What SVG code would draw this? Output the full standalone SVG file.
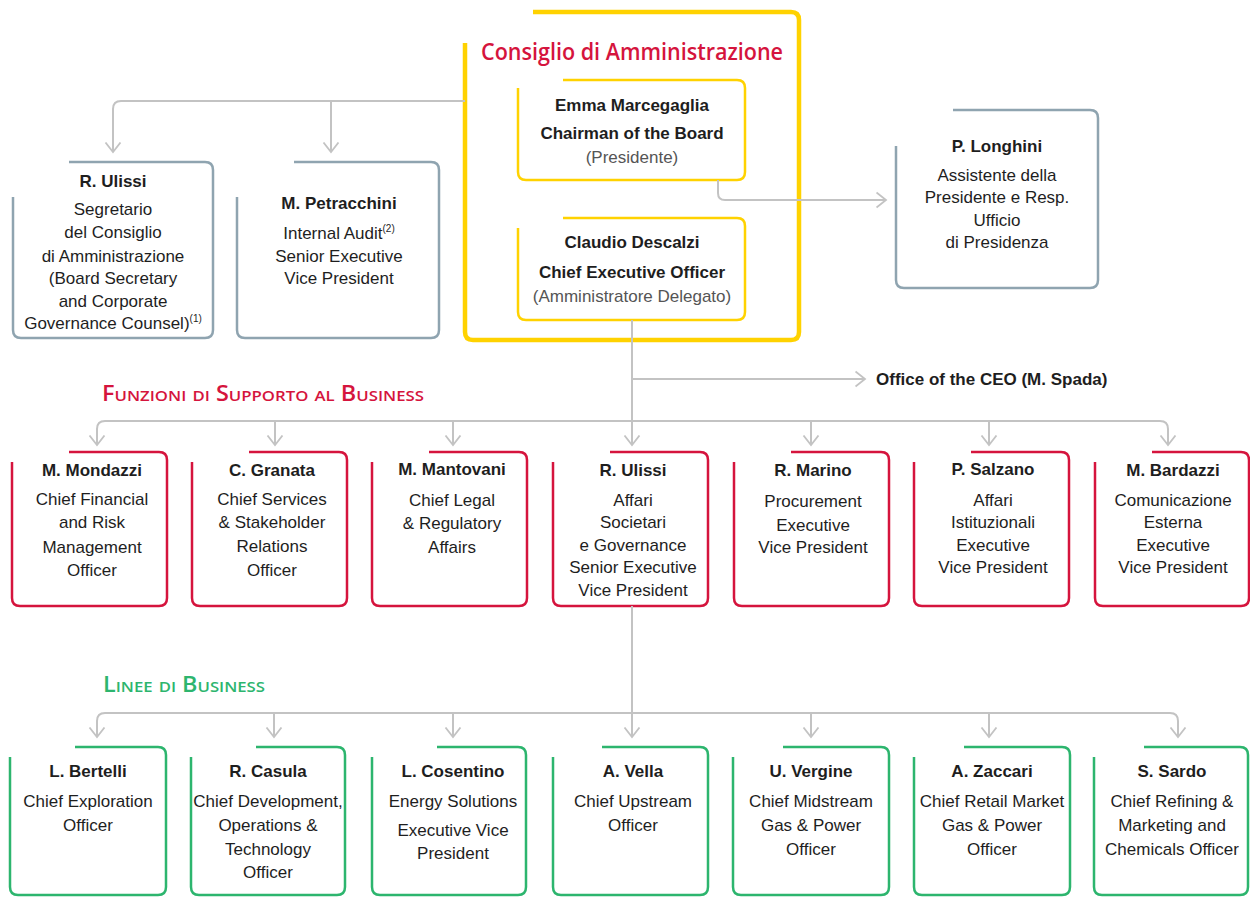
<svg xmlns="http://www.w3.org/2000/svg" width="1250" height="898" viewBox="0 0 1250 898">
<defs>
<style>
.n{font-family:"Liberation Sans",Arial,sans-serif;font-weight:bold;font-size:17px;fill:#1e1e1e;text-anchor:middle}
.t{font-family:"Liberation Sans",Arial,sans-serif;font-size:17px;fill:#1e1e1e;text-anchor:middle}
.g{fill:#555555}
.sup{font-size:10px}
.h{font-family:"Open Sans","Liberation Sans",sans-serif;font-weight:600;font-size:21px;font-variant:small-caps}
.red{fill:none;stroke:#d5143d;stroke-width:2.5}
.grn{fill:none;stroke:#2db56e;stroke-width:2.5}
.gry{fill:none;stroke:#8fa4b0;stroke-width:2.5}
.yel{fill:none;stroke:#ffd200;stroke-width:2.5}
.yelbig{fill:none;stroke:#ffd200;stroke-width:4.5}
.c{fill:none;stroke:#c3c3c3;stroke-width:2}
</style>
<marker id="arr" markerUnits="userSpaceOnUse" markerWidth="12" markerHeight="18" viewBox="0 0 12 18" refX="10.5" refY="9" orient="auto">
<path d="M1,1.5 L10.5,9 L1,16.5" fill="none" stroke="#c3c3c3" stroke-width="1.8"/>
</marker>
</defs>
<rect width="1250" height="898" fill="#ffffff"/>

<g id="consiglio">
<path class="yelbig" d="M533 12 H791 Q799 12 799 20 V332 Q799 340 791 340 H473 Q465 340 465 332 V43"/>
<text x="632" y="60" font-family="Open Sans, Liberation Sans, sans-serif" font-weight="600" font-size="23" fill="#d5143d" text-anchor="middle" textLength="302" lengthAdjust="spacingAndGlyphs">Consiglio di Amministrazione</text>
</g>

<g id="marcegaglia">
<path class="yel" d="M563 80 H737 Q745 80 745 88 V172 Q745 180 737 180 H526 Q518 180 518 172 V88"/>
<text class="n" x="632" y="111">Emma Marcegaglia</text>
<text class="n" x="632" y="139">Chairman of the Board</text>
<text class="t g" x="632" y="163">(Presidente)</text>
</g>

<g id="descalzi">
<path class="yel" d="M563 218 H737 Q745 218 745 226 V312 Q745 320 737 320 H526 Q518 320 518 312 V228"/>
<text class="n" x="632" y="248">Claudio Descalzi</text>
<text class="n" x="632" y="278">Chief Executive Officer</text>
<text class="t g" x="632" y="302">(Amministratore Delegato)</text>
</g>

<g id="ulissi-top">
<path class="gry" d="M69 162 H205 Q213 162 213 170 V330 Q213 338 205 338 H21 Q13 338 13 330 V197"/>
<text class="n" x="113" y="187">R. Ulissi</text>
<text class="t" x="113" y="215">Segretario</text>
<text class="t" x="113" y="238">del Consiglio</text>
<text class="t" x="113" y="262">di Amministrazione</text>
<text class="t" x="113" y="284">(Board Secretary</text>
<text class="t" x="113" y="307">and Corporate</text>
<text class="t" x="113" y="329">Governance Counsel)<tspan class="sup" dy="-7">(1)</tspan></text>
</g>

<g id="petracchini">
<path class="gry" d="M294 162 H431 Q439 162 439 170 V330 Q439 338 431 338 H245 Q237 338 237 330 V197"/>
<text class="n" x="339" y="209">M. Petracchini</text>
<text class="t" x="339" y="239">Internal Audit<tspan class="sup" dy="-7">(2)</tspan></text>
<text class="t" x="339" y="262">Senior Executive</text>
<text class="t" x="339" y="284">Vice President</text>
</g>

<g id="longhini">
<path class="gry" d="M953 110 H1090 Q1098 110 1098 118 V280 Q1098 288 1090 288 H904 Q896 288 896 280 V146"/>
<text class="n" x="997" y="152">P. Longhini</text>
<text class="t" x="997" y="181">Assistente della</text>
<text class="t" x="997" y="203">Presidente e Resp.</text>
<text class="t" x="997" y="226">Ufficio</text>
<text class="t" x="997" y="248">di Presidenza</text>
</g>

<g id="office-ceo">
<text x="876" y="385" font-family="Liberation Sans, Arial, sans-serif" font-weight="bold" font-size="17" fill="#1e1e1e">Office of the CEO (M. Spada)</text>
</g>

<g id="heading-funzioni">
<text class="h" x="102" y="401" fill="#d5143d" textLength="322" lengthAdjust="spacingAndGlyphs">Funzioni di Supporto al Business</text>
</g>

<g id="mondazzi">
<path class="red" d="M69 452 H159 Q167 452 167 460 V598 Q167 606 159 606 H20 Q12 606 12 598 V462"/>
<text class="n" x="92" y="476">M. Mondazzi</text>
<text class="t" x="92" y="505">Chief Financial</text>
<text class="t" x="92" y="528">and Risk</text>
<text class="t" x="92" y="553">Management</text>
<text class="t" x="92" y="576">Officer</text>
</g>
<g id="granata">
<path class="red" d="M249 452 H339 Q347 452 347 460 V598 Q347 606 339 606 H200 Q192 606 192 598 V462"/>
<text class="n" x="272" y="476">C. Granata</text>
<text class="t" x="272" y="505">Chief Services</text>
<text class="t" x="272" y="528">&amp; Stakeholder</text>
<text class="t" x="272" y="552">Relations</text>
<text class="t" x="272" y="576">Officer</text>
</g>
<g id="mantovani">
<path class="red" d="M429 452 H519 Q527 452 527 460 V598 Q527 606 519 606 H380 Q372 606 372 598 V462"/>
<text class="n" x="452" y="475">M. Mantovani</text>
<text class="t" x="452" y="506">Chief Legal</text>
<text class="t" x="452" y="529">&amp; Regulatory</text>
<text class="t" x="452" y="553">Affairs</text>
</g>
<g id="ulissi-affari">
<path class="red" d="M610 452 H700 Q708 452 708 460 V598 Q708 606 700 606 H561 Q553 606 553 598 V462"/>
<text class="n" x="633" y="476">R. Ulissi</text>
<text class="t" x="633" y="506">Affari</text>
<text class="t" x="633" y="528">Societari</text>
<text class="t" x="633" y="551">e Governance</text>
<text class="t" x="633" y="573">Senior Executive</text>
<text class="t" x="633" y="596">Vice President</text>
</g>
<g id="marino">
<path class="red" d="M791 452 H881 Q889 452 889 460 V598 Q889 606 881 606 H742 Q734 606 734 598 V462"/>
<text class="n" x="813" y="476">R. Marino</text>
<text class="t" x="813" y="507">Procurement</text>
<text class="t" x="813" y="531">Executive</text>
<text class="t" x="813" y="553">Vice President</text>
</g>
<g id="salzano">
<path class="red" d="M971 452 H1061 Q1069 452 1069 460 V598 Q1069 606 1061 606 H922 Q914 606 914 598 V462"/>
<text class="n" x="993" y="475">P. Salzano</text>
<text class="t" x="993" y="506">Affari</text>
<text class="t" x="993" y="528">Istituzionali</text>
<text class="t" x="993" y="551">Executive</text>
<text class="t" x="993" y="573">Vice President</text>
</g>
<g id="bardazzi">
<path class="red" d="M1152 452 H1241 Q1249 452 1249 460 V598 Q1249 606 1241 606 H1103 Q1095 606 1095 598 V462"/>
<text class="n" x="1173" y="476">M. Bardazzi</text>
<text class="t" x="1173" y="506">Comunicazione</text>
<text class="t" x="1173" y="528">Esterna</text>
<text class="t" x="1173" y="551">Executive</text>
<text class="t" x="1173" y="573">Vice President</text>
</g>

<g id="heading-linee">
<text class="h" x="103" y="692" fill="#2db56e" textLength="162" lengthAdjust="spacingAndGlyphs">Linee di Business</text>
</g>

<g id="bertelli">
<path class="grn" d="M75 747 H158 Q166 747 166 755 V887 Q166 895 158 895 H18 Q10 895 10 887 V757"/>
<text class="n" x="88" y="777">L. Bertelli</text>
<text class="t" x="88" y="807">Chief Exploration</text>
<text class="t" x="88" y="831">Officer</text>
</g>
<g id="casula">
<path class="grn" d="M256 747 H337 Q345 747 345 755 V887 Q345 895 337 895 H199 Q191 895 191 887 V757"/>
<text class="n" x="268" y="777">R. Casula</text>
<text class="t" x="268" y="807">Chief Development,</text>
<text class="t" x="268" y="831">Operations &amp;</text>
<text class="t" x="268" y="855">Technology</text>
<text class="t" x="268" y="878">Officer</text>
</g>
<g id="cosentino">
<path class="grn" d="M437 747 H518 Q526 747 526 755 V887 Q526 895 518 895 H380 Q372 895 372 887 V757"/>
<text class="n" x="453" y="777">L. Cosentino</text>
<text class="t" x="453" y="807">Energy Solutions</text>
<text class="t" x="453" y="836">Executive Vice</text>
<text class="t" x="453" y="859">President</text>
</g>
<g id="vella">
<path class="grn" d="M602 747 H700 Q708 747 708 755 V887 Q708 895 700 895 H561 Q553 895 553 887 V757"/>
<text class="n" x="633" y="777">A. Vella</text>
<text class="t" x="633" y="807">Chief Upstream</text>
<text class="t" x="633" y="831">Officer</text>
</g>
<g id="vergine">
<path class="grn" d="M783 747 H881 Q889 747 889 755 V887 Q889 895 881 895 H741 Q733 895 733 887 V757"/>
<text class="n" x="811" y="777">U. Vergine</text>
<text class="t" x="811" y="807">Chief Midstream</text>
<text class="t" x="811" y="831">Gas &amp; Power</text>
<text class="t" x="811" y="855">Officer</text>
</g>
<g id="zaccari">
<path class="grn" d="M964 747 H1062 Q1070 747 1070 755 V887 Q1070 895 1062 895 H922 Q914 895 914 887 V757"/>
<text class="n" x="992" y="777">A. Zaccari</text>
<text class="t" x="992" y="807">Chief Retail Market</text>
<text class="t" x="992" y="831">Gas &amp; Power</text>
<text class="t" x="992" y="855">Officer</text>
</g>
<g id="sardo">
<path class="grn" d="M1144 747 H1240 Q1248 747 1248 755 V887 Q1248 895 1240 895 H1102 Q1094 895 1094 887 V757"/>
<text class="n" x="1172" y="777">S. Sardo</text>
<text class="t" x="1172" y="807">Chief Refining &amp;</text>
<text class="t" x="1172" y="831">Marketing and</text>
<text class="t" x="1172" y="855">Chemicals Officer</text>
</g>

<g id="connectors">
<path class="c" d="M465 101 H121 Q113 101 113 109 V152" marker-end="url(#arr)"/>
<path class="c" d="M331 101 V152" marker-end="url(#arr)"/>
<path class="c" d="M718 180 V193 Q718 200 725 200 H886" marker-end="url(#arr)"/>
<path class="c" d="M632 320 V445" marker-end="url(#arr)"/>
<path class="c" d="M632 379 H865" marker-end="url(#arr)"/>
<path class="c" d="M632 421 H105 Q97 421 97 429 V445" marker-end="url(#arr)"/>
<path class="c" d="M632 421 H1160 Q1168 421 1168 429 V445" marker-end="url(#arr)"/>
<path class="c" d="M275 421 V445" marker-end="url(#arr)"/>
<path class="c" d="M453 421 V445" marker-end="url(#arr)"/>
<path class="c" d="M811 421 V445" marker-end="url(#arr)"/>
<path class="c" d="M989 421 V445" marker-end="url(#arr)"/>
<path class="c" d="M632 606 V737" marker-end="url(#arr)"/>
<path class="c" d="M632 713 H105 Q97 713 97 721 V737" marker-end="url(#arr)"/>
<path class="c" d="M632 713 H1170 Q1178 713 1178 721 V737" marker-end="url(#arr)"/>
<path class="c" d="M274 713 V737" marker-end="url(#arr)"/>
<path class="c" d="M453 713 V737" marker-end="url(#arr)"/>
<path class="c" d="M811 713 V737" marker-end="url(#arr)"/>
<path class="c" d="M989 713 V737" marker-end="url(#arr)"/>
</g>
</svg>
